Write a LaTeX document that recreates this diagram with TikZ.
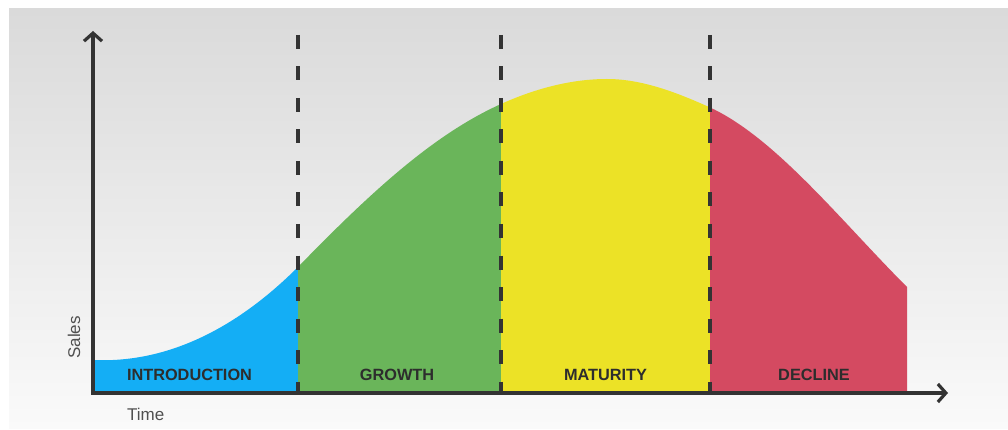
\documentclass[tikz,border=0pt]{standalone}
\usepackage{fontspec}
\setmainfont{Liberation Sans}
\usetikzlibrary{arrows.meta}
\definecolor{axisc}{RGB}{51,51,51}
\definecolor{txtc}{RGB}{45,45,45}
\definecolor{lblc}{RGB}{80,80,80}
\definecolor{introc}{RGB}{20,174,245}
\definecolor{growc}{RGB}{106,181,90}
\definecolor{matc}{RGB}{236,226,38}
\definecolor{decc}{RGB}{212,74,97}
\definecolor{bgtop}{RGB}{218,218,218}
\definecolor{bgbot}{RGB}{250,250,250}
\tikzset{
  phase/.style={font=\fontsize{16.3}{18}\selectfont\bfseries, text=txtc, inner sep=0pt},
  axlabel/.style={font=\fontsize{17}{19}\selectfont, text=lblc, inner sep=0pt},
  axisline/.style={draw=axisc, line width=3.8pt, -{Straight Barb[length=8pt,width=18pt,line width=3.2pt]}},
  divider/.style={draw=axisc, line width=4.5pt, dash pattern=on 14pt off 17.5pt},
}
\newcommand{\lifearea}{(93,393) -- (93,360) .. controls (180,364) and (250,315) .. (298,267) .. controls (370,193) and (433,134.6) .. (501,104) .. controls (536,88.2) and (572,79) .. (607,79) .. controls (641,79) and (675,91.7) .. (709,107) .. controls (775,137) and (841,221) .. (907,287) -- (907,393) -- cycle}
\begin{document}
\begin{tikzpicture}[x=1pt,y=-1pt]
\useasboundingbox (0,0) rectangle (1008,430);
\fill[white] (0,0) rectangle (1008,430);
\shade[top color=bgtop, bottom color=bgbot] (9,9) rectangle (1008,428);
% phase areas
\begin{scope}\clip (93,0) rectangle (298,393); \fill[introc] \lifearea; \end{scope}
\begin{scope}\clip (298,0) rectangle (501,393); \fill[growc] \lifearea; \end{scope}
\begin{scope}\clip (501,0) rectangle (710,393); \fill[matc] \lifearea; \end{scope}
\begin{scope}\clip (710,0) rectangle (920,393); \fill[decc] \lifearea; \end{scope}
% dividers
\coordinate (d1t) at (298,35); \coordinate (d1b) at (298,393);
\coordinate (d2t) at (501,35); \coordinate (d2b) at (501,393);
\coordinate (d3t) at (710,35); \coordinate (d3b) at (710,393);
\draw[divider] (d1t) -- (d1b);
\draw[divider] (d2t) -- (d2b);
\draw[divider] (d3t) -- (d3b);
% axes
\coordinate (origin) at (93,393);
\coordinate (ytip) at (93,31);
\coordinate (xtip) at (948,393);
\draw[axisline] ([yshift=1.9pt]origin) -- (ytip);
\draw[axisline] ([xshift=-1.9pt]origin) -- (xtip);
% labels
\node[phase] (intro) at (189.5,375) {INTRODUCTION};
\node[phase] (growth) at (397,375) {GROWTH};
\node[phase] (maturity) at (605.5,375) {MATURITY};
\node[phase] (decline) at (814,375) {DECLINE};
\node[axlabel, anchor=west] (time) at (127,414.5) {Time};
\node[axlabel, rotate=90] (sales) at (74,337.5) {Sales};
\end{tikzpicture}
\end{document}
